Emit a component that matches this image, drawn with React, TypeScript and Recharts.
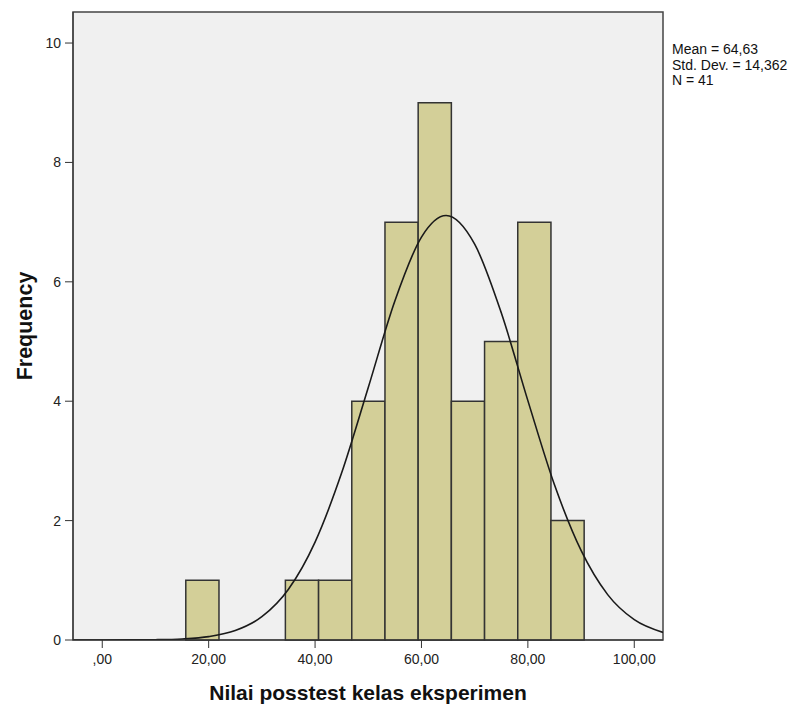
import React from 'react';
import {
  ComposedChart,
  Line,
  XAxis,
  YAxis,
  ReferenceArea,
  Label,
} from 'recharts';

// histogram bins (lower edge, upper edge, frequency)
const binLo = [15.7, 21.94, 28.18, 34.42, 40.66, 46.9, 53.14, 59.38, 65.62, 71.86, 78.1, 84.34];
const binHi = [21.94, 28.18, 34.42, 40.66, 46.9, 53.14, 59.38, 65.62, 71.86, 78.1, 84.34, 90.58];
const binCount = [1, 0, 0, 1, 1, 4, 7, 9, 4, 5, 7, 2];

// normal curve
const curveX = [-5.5, 0, 5, 10, 15, 20, 25, 30, 35, 40, 45, 50, 55, 60, 64.63, 70, 75, 80, 85, 90, 95, 100, 105.4];
const curveY = [0, 0.0003, 0.0013, 0.005, 0.018, 0.057, 0.158, 0.39, 0.85, 1.64, 2.8, 4.23, 5.68, 6.75, 7.11, 6.63, 5.48, 4.01, 2.6, 1.5, 0.76, 0.34, 0.127];

const xTicks = [0, 20, 40, 60, 80, 100];
const yTicks = [0, 2, 4, 6, 8, 10];
const statLines = ['Mean = 64,63', 'Std. Dev. = 14,362', 'N = 41'];

const FONT = 'Arial, "Liberation Sans", sans-serif';
const X_DOMAIN: [number, number] = [-5.5, 105.4];
const Y_DOMAIN: [number, number] = [0, 10.52];

const curveData = curveX.map((x, i) => ({ x, y: curveY[i] }));

const fmtX = (v: number) => (v === 0 ? ',00' : `${v},00`);

export default function App() {
  return (
    <div style={{ position: 'absolute', left: 0, top: 0, width: 803, height: 707, background: '#fff', fontFamily: FONT }}>
      <ComposedChart
        width={803}
        height={707}
        data={curveData}
        margin={{ top: 12, right: 140, left: 0, bottom: 0 }}
      >
        <XAxis
          dataKey="x"
          type="number"
          domain={X_DOMAIN}
          allowDataOverflow
          ticks={xTicks}
          tickFormatter={fmtX}
          height={67}
          tickSize={8}
          tickMargin={6}
          stroke="#333"
          tick={{ fill: '#222', fontSize: 14, fontFamily: FONT }}
        >
          <Label
            value="Nilai posstest kelas eksperimen"
            position="insideBottom"
            offset={7}
            style={{ fontSize: 21, fontWeight: 'bold', fill: '#111', fontFamily: FONT }}
          />
        </XAxis>
        <YAxis
          type="number"
          domain={Y_DOMAIN}
          allowDataOverflow
          ticks={yTicks}
          width={73}
          tickSize={8}
          tickMargin={4}
          stroke="#333"
          tick={{ fill: '#222', fontSize: 14, fontFamily: FONT }}
          label={{
            content: ({ viewBox }: any) => {
              const cy = viewBox.y + viewBox.height / 2;
              return (
                <text
                  x={32}
                  y={cy}
                  transform={`rotate(-90, 32, ${cy})`}
                  textAnchor="middle"
                  style={{ fontSize: 21.5, fontWeight: 'bold', fill: '#111', fontFamily: FONT }}
                >
                  Frequency
                </text>
              );
            },
          }}
        />
        <ReferenceArea
          x1={X_DOMAIN[0]}
          x2={X_DOMAIN[1]}
          y1={Y_DOMAIN[0]}
          y2={Y_DOMAIN[1]}
          fill="#f0f0f0"
          fillOpacity={1}
          stroke="#444"
          strokeWidth={1.5}
          ifOverflow="visible"
        />
        {binCount.map((c, i) =>
          c > 0 ? (
            <ReferenceArea
              key={`bin-${i}`}
              x1={binLo[i]}
              x2={binHi[i]}
              y1={0}
              y2={c}
              fill="#d3cf98"
              fillOpacity={1}
              stroke="#333"
              strokeWidth={1.5}
              ifOverflow="visible"
            />
          ) : null
        )}
        <Line
          dataKey="y"
          type="monotone"
          stroke="#1a1a1a"
          strokeWidth={1.6}
          dot={false}
          activeDot={false}
          isAnimationActive={false}
        />
      </ComposedChart>
      {statLines.map((s, i) => (
        <div
          key={s}
          style={{
            position: 'absolute',
            left: 672,
            top: 42 + i * 15.5,
            fontSize: 14,
            lineHeight: '15px',
            color: '#111',
            whiteSpace: 'nowrap',
          }}
        >
          {s}
        </div>
      ))}
    </div>
  );
}
